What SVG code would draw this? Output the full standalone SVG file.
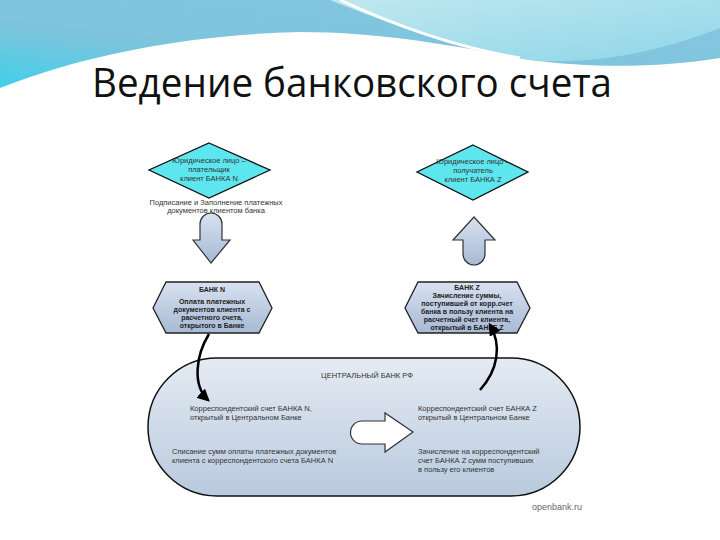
<svg xmlns="http://www.w3.org/2000/svg" width="720" height="540" viewBox="0 0 720 540">
<defs>
<linearGradient id="wave" x1="0" y1="1" x2="1" y2="0">
<stop offset="0" stop-color="#3fd0ea"/>
<stop offset="0.35" stop-color="#7cc4dc"/>
<stop offset="1" stop-color="#88c6e0"/>
</linearGradient>
<linearGradient id="wave2" x1="0" y1="0" x2="1" y2="1">
<stop offset="0" stop-color="#bfe8f0"/>
<stop offset="1" stop-color="#8fd6e8"/>
</linearGradient>
<linearGradient id="blk" x1="0" y1="0" x2="0" y2="1">
<stop offset="0" stop-color="#d8e2f0"/>
<stop offset="1" stop-color="#a7b9d4"/>
</linearGradient>
<linearGradient id="stad" x1="0" y1="0" x2="0" y2="1">
<stop offset="0" stop-color="#e4ebf3"/>
<stop offset="1" stop-color="#b9cade"/>
</linearGradient>
<marker id="ah" viewBox="0 0 10 10" refX="8" refY="5" markerWidth="5" markerHeight="5" orient="auto">
<path d="M0,0 L10,5 L0,10 Z" fill="#000"/>
</marker>
<style>
.t{font-family:"Liberation Sans",Arial,sans-serif;font-size:7.5px;fill:#333}
.tb{font-family:"Liberation Sans",Arial,sans-serif;font-size:7px;font-weight:bold;fill:#222}
.dia{fill:#5ee6ef;stroke:#111;stroke-width:1.3}
.hex{fill:url(#blk);stroke:#222;stroke-width:1.3}
.blk{fill:url(#blk);stroke:#333;stroke-width:1.2}
.con{fill:none;stroke:#000;stroke-width:2.5;marker-end:url(#ah)}
</style>
</defs>
<rect width="720" height="540" fill="#ffffff"/>
<path d="M0,0 H720 V58 C660,68 590,68 530,60 C450,45 380,32 300,32 C200,34 90,52 0,88 Z" fill="url(#wave)"/>
<path d="M330,0 C400,28 470,52 530,60 C600,66 670,48 720,28 V0 Z" fill="url(#wave2)"/>
<path d="M340,0 C400,28 460,48 520,58" fill="none" stroke="#ffffff" stroke-width="3"/>
<text x="92" y="97" font-family="'Open Sans','Liberation Sans',sans-serif" font-size="40" fill="#111" textLength="520" lengthAdjust="spacingAndGlyphs">Ведение банковского счета</text>

<g id="payer">
<polygon class="dia" points="209,143 270,170 209,198 149,170"/>
<text class="t" text-anchor="middle" x="209" y="163">Юридическое лицо –</text>
<text class="t" text-anchor="middle" x="209" y="172">плательщик</text>
<text class="t" text-anchor="middle" x="209" y="181">клиент БАНКА N</text>
</g>
<g id="sign-label">
<text class="t" text-anchor="middle" x="216" y="205" font-size="7">Подписание и Заполнение платежных</text>
<text class="t" text-anchor="middle" x="216" y="213" font-size="7">документов клиентом банка</text>
</g>
<g id="arrow-down">
<path class="blk" d="M200,240 V224 A11,11 0 0 1 222,224 V240 H230 L211,263 L193,240 Z"/>
</g>
<g id="receiver">
<polygon class="dia" points="473,145 528,172 473,200 417,172"/>
<text class="t" text-anchor="middle" x="473" y="164">Юридическое лицо –</text>
<text class="t" text-anchor="middle" x="473" y="173">получатель</text>
<text class="t" text-anchor="middle" x="473" y="182">клиент БАНКА Z</text>
</g>
<g id="arrow-up">
<path class="blk" d="M463,240 V254 A11,11 0 0 0 485,254 V240 H495 L474,217 L453,240 Z"/>
</g>
<g id="bank-n">
<polygon class="hex" points="166,282 259,282 272,308 259,333 166,333 153,308"/>
<text class="tb" text-anchor="middle" x="212" y="292">БАНК N</text>
<text class="tb" text-anchor="middle" x="212" y="304">Оплата платежных</text>
<text class="tb" text-anchor="middle" x="212" y="312">документов клиента с</text>
<text class="tb" text-anchor="middle" x="212" y="320">расчетного счета,</text>
<text class="tb" text-anchor="middle" x="212" y="328">открытого в Банке</text>
</g>
<g id="bank-z">
<polygon class="hex" points="418,282 517,282 530,308 517,333 418,333 405,308"/>
<text class="tb" text-anchor="middle" x="467" y="290">БАНК Z</text>
<text class="tb" text-anchor="middle" x="467" y="298">Зачисление суммы,</text>
<text class="tb" text-anchor="middle" x="467" y="306">поступившей от корр.счет</text>
<text class="tb" text-anchor="middle" x="467" y="314">банка в пользу клиента на</text>
<text class="tb" text-anchor="middle" x="467" y="322">расчетный счет клиента,</text>
<text class="tb" text-anchor="middle" x="467" y="330">открытый в БАНКЕ Z</text>
</g>
<g id="central-bank">
<rect x="148" y="358" width="432" height="138" rx="69" ry="69" fill="url(#stad)" stroke="#111" stroke-width="1.5"/>
<text class="t" text-anchor="middle" x="367" y="378">ЦЕНТРАЛЬНЫЙ БАНК РФ</text>
<text class="t" x="190" y="411">Корреспондентский счет БАНКА N,</text>
<text class="t" x="190" y="420">открытый в Центральном Банке</text>
<text class="t" x="172" y="454">Списание сумм оплаты платежных документов</text>
<text class="t" x="172" y="463">клиента с корреспондентского счета БАНКА N</text>
<text class="t" x="418" y="411">Корреспондентский счет БАНКА Z</text>
<text class="t" x="418" y="420">открытый в Центральном Банке</text>
<text class="t" x="418" y="454">Зачисление на корреспондентский</text>
<text class="t" x="418" y="463">счет БАНКА Z сумм поступивших</text>
<text class="t" x="418" y="472">в пользу его клиентов</text>
<path class="blk" style="fill:#ffffff" d="M385,421 H362 A11.5,11.5 0 0 0 362,444 H385 V452 L413,432 L385,413 Z"/>
</g>
<g id="connectors">
<path class="con" d="M209,334 C196,355 192,385 208,400"/>
<path class="con" d="M480,390 C498,370 502,345 490,325"/>
</g>
<text x="582" y="510" text-anchor="end" font-family="'Liberation Sans',Arial,sans-serif" font-size="9" fill="#666">openbank.ru</text>
</svg>
